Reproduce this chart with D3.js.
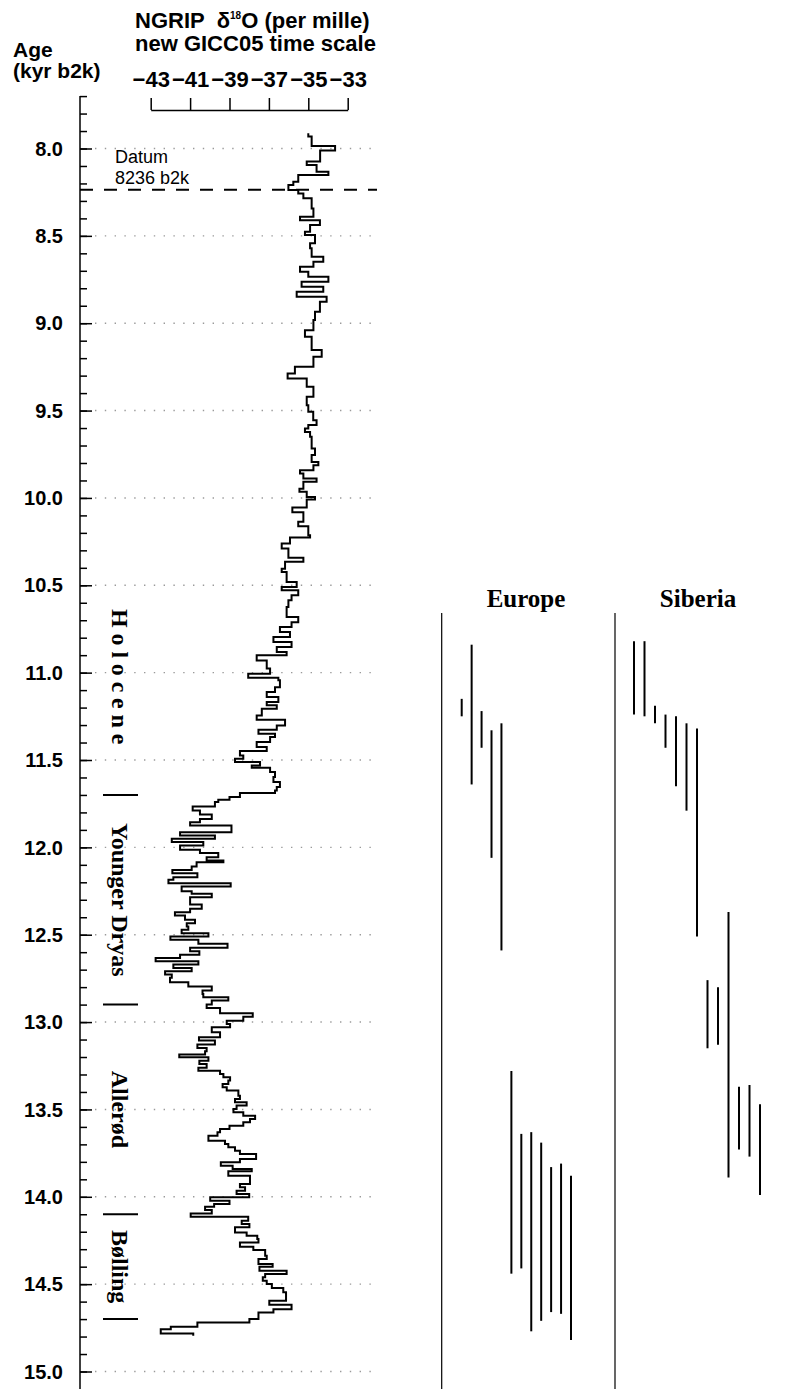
<!DOCTYPE html>
<html>
<head>
<meta charset="utf-8">
<script src="https://cdn.jsdelivr.net/npm/d3@7"></script>
<style>
body { margin: 0; background: #fff; }
svg { display: block; }
</style>
</head>
<body>
<div id="chart"></div>
<script>
var w = 786, h = 1389;
var sans = "'Liberation Sans', Arial, sans-serif";
var serif = "'Liberation Serif', 'Times New Roman', serif";

// NGRIP d18O steps: [age kyr b2k, per mille], each value holds until the next age
var ngrip = [
  [7.913,-35.00],[7.932,-34.83],[7.986,-33.64],[8.012,-34.40],[8.075,-35.08],[8.095,-34.58],
  [8.133,-33.98],[8.152,-35.51],[8.190,-35.76],[8.209,-36.01],[8.238,-35.51],[8.257,-35.25],
  [8.285,-34.83],[8.343,-34.74],[8.390,-35.42],[8.410,-34.41],[8.438,-34.91],[8.476,-35.17],
  [8.495,-34.66],[8.543,-34.91],[8.571,-34.83],[8.619,-34.24],[8.648,-34.74],[8.677,-35.42],
  [8.705,-35.00],[8.734,-33.98],[8.762,-35.34],[8.791,-34.24],[8.820,-35.59],[8.849,-34.07],
  [8.877,-34.41],[8.934,-34.66],[8.982,-34.74],[9.040,-35.17],[9.078,-34.83],[9.154,-34.32],
  [9.192,-34.74],[9.249,-35.68],[9.288,-36.05],[9.316,-35.08],[9.364,-34.74],[9.421,-35.08],
  [9.469,-35.00],[9.507,-34.75],[9.555,-34.58],[9.583,-35.00],[9.603,-35.17],[9.622,-34.91],
  [9.650,-34.83],[9.717,-34.66],[9.755,-34.83],[9.794,-34.49],[9.813,-34.74],[9.841,-35.42],
  [9.860,-35.25],[9.889,-34.58],[9.908,-35.25],[9.947,-35.45],[9.965,-35.08],[9.994,-34.66],
  [10.009,-35.08],[10.055,-35.81],[10.082,-35.25],[10.137,-35.51],[10.162,-35.00],[10.213,-34.91],
  [10.227,-35.93],[10.261,-36.35],[10.290,-36.01],[10.342,-35.25],[10.366,-36.18],[10.405,-36.35],
  [10.424,-36.10],[10.481,-35.59],[10.510,-36.35],[10.529,-35.51],[10.557,-35.85],[10.586,-36.01],
  [10.624,-36.10],[10.682,-35.51],[10.711,-35.85],[10.739,-36.44],[10.768,-35.93],[10.796,-36.77],
  [10.825,-35.85],[10.853,-36.60],[10.882,-36.10],[10.901,-37.62],[10.930,-37.11],[10.977,-36.94],
  [11.006,-38.05],[11.029,-36.52],[11.044,-36.44],[11.083,-36.69],[11.111,-37.11],[11.140,-36.52],
  [11.168,-37.11],[11.187,-36.60],[11.206,-37.36],[11.245,-37.62],[11.269,-36.18],[11.302,-36.60],
  [11.327,-37.53],[11.350,-36.69],[11.369,-36.94],[11.397,-37.62],[11.426,-37.11],[11.449,-38.47],
  [11.474,-38.30],[11.493,-38.72],[11.512,-37.45],[11.531,-37.87],[11.544,-36.94],[11.569,-36.69],
  [11.598,-36.77],[11.626,-36.44],[11.655,-36.60],[11.674,-36.69],[11.689,-38.47],[11.712,-39.00],
  [11.728,-39.57],[11.741,-39.74],[11.766,-40.87],[11.789,-40.50],[11.812,-39.90],[11.837,-40.50],
  [11.856,-41.00],[11.875,-38.90],[11.913,-41.51],[11.932,-39.74],[11.951,-41.93],[11.970,-40.33],
  [11.990,-41.51],[12.014,-40.50],[12.033,-39.57],[12.056,-40.16],[12.075,-39.31],[12.085,-40.67],
  [12.110,-40.92],[12.129,-41.90],[12.148,-40.63],[12.171,-41.85],[12.186,-42.10],[12.205,-38.94],
  [12.224,-41.43],[12.251,-40.92],[12.266,-39.90],[12.285,-41.00],[12.327,-40.41],[12.352,-41.00],
  [12.371,-41.77],[12.390,-41.26],[12.415,-40.75],[12.434,-41.17],[12.453,-41.09],[12.472,-41.43],
  [12.491,-40.07],[12.510,-42.00],[12.529,-40.58],[12.552,-39.10],[12.575,-41.00],[12.594,-40.53],
  [12.614,-41.51],[12.633,-42.75],[12.652,-40.58],[12.671,-41.85],[12.690,-40.92],[12.709,-42.27],
  [12.728,-41.93],[12.747,-42.02],[12.772,-41.09],[12.797,-39.90],[12.820,-40.37],[12.839,-40.33],
  [12.858,-39.06],[12.877,-39.90],[12.900,-40.16],[12.919,-39.48],[12.950,-37.82],[12.969,-38.30],
  [12.992,-39.14],[13.011,-38.97],[13.030,-39.90],[13.058,-39.48],[13.087,-40.55],[13.106,-39.74],
  [13.129,-40.63],[13.148,-40.16],[13.167,-40.24],[13.186,-41.55],[13.202,-40.07],[13.221,-40.53],
  [13.240,-40.16],[13.262,-40.58],[13.278,-39.48],[13.297,-39.31],[13.316,-38.97],[13.335,-39.06],
  [13.354,-39.35],[13.373,-39.14],[13.392,-38.55],[13.421,-38.47],[13.440,-38.72],[13.459,-38.13],
  [13.478,-38.64],[13.497,-38.80],[13.516,-38.30],[13.536,-37.70],[13.555,-37.96],[13.574,-38.30],
  [13.593,-39.00],[13.612,-39.48],[13.631,-39.61],[13.650,-40.07],[13.679,-39.23],[13.698,-39.06],
  [13.717,-38.72],[13.736,-38.47],[13.755,-37.65],[13.784,-38.47],[13.803,-39.44],[13.822,-38.84],
  [13.841,-37.87],[13.854,-39.06],[13.879,-37.96],[13.927,-38.47],[13.946,-38.21],[13.965,-38.64],
  [13.984,-38.00],[14.003,-39.98],[14.022,-39.00],[14.042,-39.78],[14.057,-40.24],[14.076,-39.90],
  [14.095,-40.97],[14.114,-38.05],[14.137,-38.38],[14.156,-37.99],[14.175,-38.72],[14.204,-38.13],
  [14.223,-37.59],[14.242,-37.53],[14.261,-38.47],[14.286,-37.79],[14.305,-37.19],[14.337,-37.11],
  [14.356,-37.53],[14.385,-36.81],[14.400,-37.48],[14.423,-36.10],[14.442,-37.19],[14.461,-37.31],
  [14.480,-37.11],[14.499,-36.85],[14.522,-36.27],[14.547,-36.13],[14.595,-36.98],[14.618,-35.85],
  [14.643,-36.77],[14.662,-37.53],[14.700,-37.99],[14.719,-40.63],[14.744,-41.98],[14.758,-42.49],
  [14.782,-40.84]
];
var ngripEnd = 14.796;

var datumAge = 8.236;
var ageTicks = d3.range(16, 31).map(function(d) { return d / 2; });      // 8.0 .. 15.0
var minorAgeTicks = d3.range(77, 151).map(function(d) { return d / 10; }); // 7.7 .. 15.0
var d18oTicks = [-43, -41, -39, -37, -35, -33];

var eraBounds = [11.7, 12.9, 14.1, 14.7];
var eraNames = ["Holocene", "Younger Dryas", "Allerød", "Bølling"];
var eraFrom = [10.38, 11.7, 12.9, 14.1];
var eraTo = [11.7, 12.9, 14.1, 14.7];

// age ranges [from, to] per site, left to right
var europe = [
  [11.15, 11.25], [10.84, 11.64], [11.22, 11.43], [11.33, 12.06], [11.29, 12.59],
  [13.28, 14.44], [13.64, 14.41], [13.63, 14.77], [13.69, 14.71], [13.83, 14.66],
  [13.81, 14.67], [13.88, 14.82]
];
var siberia = [
  [10.82, 11.24], [10.82, 11.25], [11.19, 11.29], [11.24, 11.43], [11.25, 11.65],
  [11.29, 11.79], [11.32, 12.51], [12.76, 13.15], [12.80, 13.13], [12.37, 13.89],
  [13.37, 13.73], [13.36, 13.77], [13.47, 13.99]
];

var svg = d3.select("#chart").append("svg")
  .attr("width", w).attr("height", h)
  .attr("font-family", sans);

var y = d3.scaleLinear().domain([8, 15]).range([148.5, 1371.5]);
var x = d3.scaleLinear().domain([-43, -33]).range([150.7, 347.7]);

// dotted grid
svg.append("g").selectAll("line").data(ageTicks).enter().append("line")
  .attr("x1", 95).attr("x2", 377)
  .attr("y1", function(d) { return y(d); }).attr("y2", function(d) { return y(d); })
  .attr("stroke", "#9a9a9a").attr("stroke-width", 1.4)
  .attr("stroke-dasharray", "1.4,8.4");

// age axis
var ag = svg.append("g").attr("transform", "translate(80,0)");
ag.append("line").attr("y1", y(7.7)).attr("y2", h)
  .attr("stroke", "#000").attr("stroke-width", 1.5);
ag.append("g").call(d3.axisRight(y).tickValues(minorAgeTicks).tickSize(7).tickFormat(""))
  .call(function(g) { g.select(".domain").remove(); g.selectAll("line").attr("stroke-width", 1.5); });
ag.append("g").call(d3.axisRight(y).tickValues(ageTicks).tickSize(12).tickFormat(""))
  .call(function(g) { g.select(".domain").remove(); g.selectAll("line").attr("stroke-width", 1.5); });

svg.append("g").selectAll("text").data(ageTicks).enter().append("text")
  .attr("x", 63).attr("y", function(d) { return y(d); }).attr("dy", "0.36em")
  .attr("text-anchor", "end").attr("font-size", 20).attr("font-weight", "bold")
  .text(d3.format(".1f"));

svg.append("text").attr("x", 13).attr("y", 57)
  .attr("font-size", 21).attr("font-weight", "bold").text("Age");
svg.append("text").attr("x", 13).attr("y", 78)
  .attr("font-size", 21).attr("font-weight", "bold").text("(kyr b2k)");

// d18O axis
svg.append("g").attr("transform", "translate(0,110)")
  .call(d3.axisTop(x).tickValues(d18oTicks).tickSize(12).tickSizeOuter(0).tickPadding(11))
  .attr("font-size", 22).attr("font-family", sans).attr("font-weight", "bold")
  .call(function(g) {
    g.selectAll("line").attr("stroke-width", 1.5);
    g.select(".domain").attr("stroke-width", 1.5);
  });

var t1 = svg.append("text").attr("x", 135).attr("y", 28)
  .attr("font-size", 22).attr("font-weight", "bold");
t1.append("tspan").text("NGRIP");
t1.append("tspan").attr("dx", 12).text("δ");
t1.append("tspan").attr("font-size", 10).attr("dy", -9).text("18");
t1.append("tspan").attr("dy", 9).text("O (per mille)");
svg.append("text").attr("x", 135).attr("y", 51)
  .attr("font-size", 22).attr("font-weight", "bold").text("new GICC05 time scale");

// datum
svg.append("line").attr("x1", 80).attr("x2", 377)
  .attr("y1", y(datumAge)).attr("y2", y(datumAge))
  .attr("stroke", "#000").attr("stroke-width", 2).attr("stroke-dasharray", "13,11");
svg.append("text").attr("x", 115).attr("y", 163).attr("font-size", 18).text("Datum");
svg.append("text").attr("x", 115).attr("y", 184).attr("font-size", 18).text("8236 b2k");

// isotope curve
var curve = d3.line()
  .x(function(d) { return x(d[1]); })
  .y(function(d) { return y(d[0]); })
  .curve(d3.curveStepBefore);
svg.append("path")
  .datum(ngrip.concat([[ngripEnd, ngrip[ngrip.length - 1][1]]]))
  .attr("d", curve)
  .attr("fill", "none").attr("stroke", "#000").attr("stroke-width", 2);

// periods
svg.append("g").selectAll("line").data(eraBounds).enter().append("line")
  .attr("x1", 103).attr("x2", 138)
  .attr("y1", function(d) { return y(d); }).attr("y2", function(d) { return y(d); })
  .attr("stroke", "#000").attr("stroke-width", 2);

svg.append("g").selectAll("text").data(eraNames).enter().append("text")
  .attr("transform", function(d, i) {
    return "translate(112," + y((eraFrom[i] + eraTo[i]) / 2) + ") rotate(90)";
  })
  .attr("text-anchor", "middle")
  .attr("font-family", serif).attr("font-weight", "bold").attr("font-size", 24)
  .attr("letter-spacing", function(d, i) { return i === 0 ? 5.8 : 0; })
  .text(function(d) { return d; });

// Europe / Siberia ranges
var panelTop = 613;
var panels = [
  { name: "Europe", lineX: 441.7, labelX: 526, range: [461.7, 571], sites: europe },
  { name: "Siberia", lineX: 615, labelX: 698, range: [634, 760], sites: siberia }
];

panels.forEach(function(p) {
  var px = d3.scalePoint().domain(d3.range(p.sites.length)).range(p.range);
  var g = svg.append("g");
  g.append("line").attr("x1", p.lineX).attr("x2", p.lineX)
    .attr("y1", panelTop).attr("y2", h)
    .attr("stroke", "#000").attr("stroke-width", 1.2);
  g.append("text").attr("x", p.labelX).attr("y", 607)
    .attr("text-anchor", "middle").attr("font-family", serif)
    .attr("font-weight", "bold").attr("font-size", 25).text(p.name);
  g.selectAll("line.site").data(p.sites).enter().append("line")
    .attr("class", "site")
    .attr("x1", function(d, i) { return px(i); }).attr("x2", function(d, i) { return px(i); })
    .attr("y1", function(d) { return y(d[0]); }).attr("y2", function(d) { return y(d[1]); })
    .attr("stroke", "#000").attr("stroke-width", 2);
});
</script>
</body>
</html>
